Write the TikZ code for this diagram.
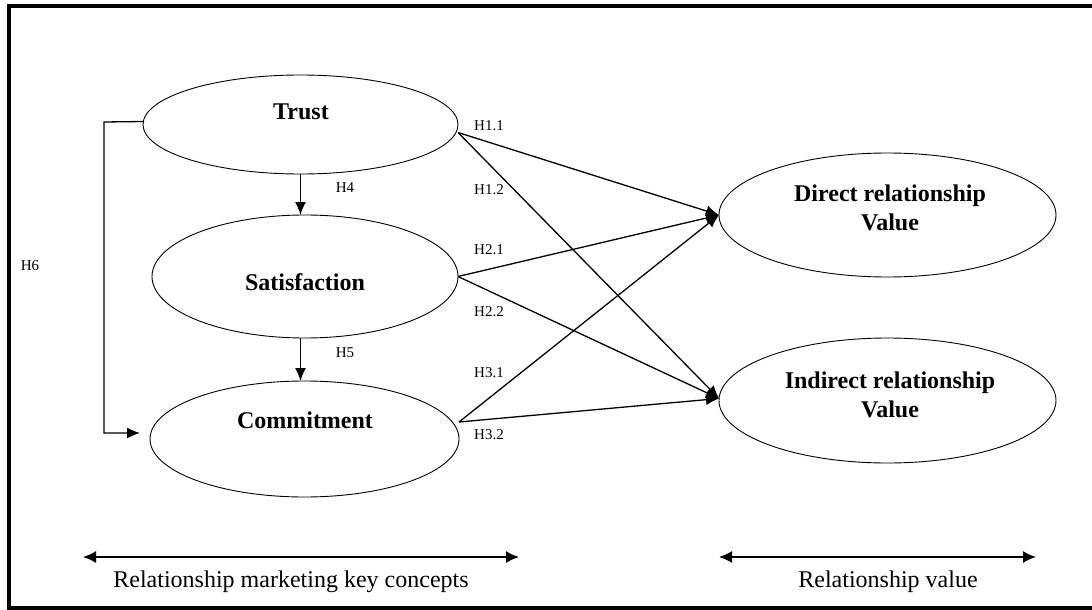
\documentclass[tikz,border=0pt]{standalone}
\usepackage{fontspec}
\setmainfont{Liberation Serif}
\usepackage{amsmath}
\usetikzlibrary{shapes.geometric,arrows.meta}

\begin{document}
\begin{tikzpicture}
  [x=1pt,y=-1pt,
   concept/.style={ellipse,draw=black,line width=0.9pt,inner sep=0,outer sep=0},
   ctext/.style={font=\fontsize{24}{29}\selectfont\bfseries,align=center,inner sep=0},
   hyp/.style={font=\fontsize{15}{16}\selectfont,inner sep=0},
   caption/.style={font=\fontsize{24}{26}\selectfont,inner sep=0},
   link/.style={line width=1.3pt,-{Latex[length=13pt,width=11pt]}},
   span/.style={line width=1.5pt,{Latex[length=13pt,width=12pt]}-{Latex[length=13pt,width=12pt]}}]
  \useasboundingbox (0,0) rectangle (1092,610);
  \draw[line width=3.5pt] (1092,6) -- (9,6) -- (9,608) -- (1092,608);
  % key concepts
  \node[concept,minimum width=315pt,minimum height=99pt] (trust) at (300.5,124.5) {};
  \node[concept,minimum width=306pt,minimum height=123pt] (satis) at (305,276.5) {};
  \node[concept,minimum width=309pt,minimum height=116pt] (commit) at (304.5,439) {};
  \node[ctext] (trusttext) at (301,112) {Trust};
  \node[ctext] (satistext) at (305,282) {Satisfaction};
  \node[ctext] (committext) at (305,420) {Commitment};
  % relationship value
  \node[concept,minimum width=337pt,minimum height=124pt] (direct) at (887.5,215) {};
  \node[concept,minimum width=337pt,minimum height=125pt] (indirect) at (887.5,400.5) {};
  \node[ctext] (directtext) at (890,208) {Direct relationship\\Value};
  \node[ctext] (indirecttext) at (890,395) {Indirect relationship\\Value};
  % hypotheses
  \draw[link] (trust.south) to (trust.south |- satis.north);
  \draw[link] (satis.south -| trust.south) to (trust.south |- commit.north);
  \coordinate (h6bend) at (104,122);
  \draw[link,shorten >=10pt] ([yshift=3pt]trust.west) -- (h6bend) |- ([yshift=6pt]commit.west);
  \draw[link] ([yshift=-8pt]trust.east) to (direct.west);
  \draw[link] ([yshift=-8pt]trust.east) to ([yshift=2pt]indirect.west);
  \draw[link] (satis.east) to (direct.west);
  \draw[link] (satis.east) to ([yshift=2pt]indirect.west);
  \draw[link] ([yshift=17pt]commit.east) to (direct.west);
  \draw[link] ([yshift=17pt]commit.east) to ([yshift=2pt]indirect.west);
  \node[hyp] (h11) at (489,126) {H1.1};
  \node[hyp] (h12) at (489,190) {H1.2};
  \node[hyp] (h21) at (489,250) {H2.1};
  \node[hyp] (h22) at (489,312) {H2.2};
  \node[hyp] (h31) at (489,373) {H3.1};
  \node[hyp] (h32) at (489,435) {H3.2};
  \node[hyp] (h4) at (345,188) {H4};
  \node[hyp] (h5) at (345,353) {H5};
  \node[hyp] (h6) at (30,266) {H6};
  % bottom spans
  \coordinate (keyleft) at (83,557);
  \coordinate (keyright) at (519,557);
  \coordinate (valleft) at (719,557);
  \coordinate (valright) at (1036,557);
  \draw[span] (keyleft) -- (keyright);
  \draw[span] (valleft) -- (valright);
  \node[caption] (keycap) at (291,582) {Relationship marketing key concepts};
  \node[caption] (valcap) at (888,582) {Relationship value};
\end{tikzpicture}
\end{document}
